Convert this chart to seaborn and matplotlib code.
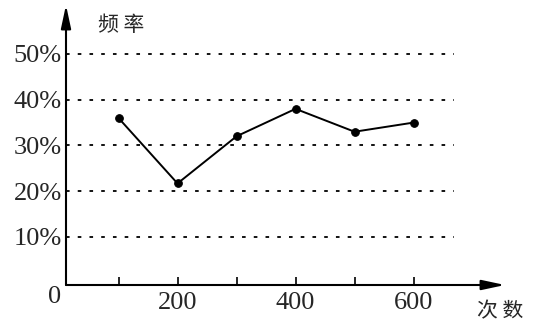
import matplotlib
matplotlib.use("Agg")
import matplotlib.pyplot as plt
import seaborn as sns
import pandas as pd

counts = [100, 200, 300, 400, 500, 600]
freq_pct = [36, 21.7, 32, 38, 33, 35]
ytick_vals = [10, 20, 30, 40, 50]
ytick_labels = ["10%", "20%", "30%", "40%", "50%"]
xtick_major = [200, 400, 600]
xtick_minor = [100, 300, 500]
ylabel_text = "频 率"
xlabel_text = "次 数"

sns.set_style("white")
plt.rcParams['font.family'] = ['Liberation Serif', 'Noto Sans CJK SC', 'DejaVu Sans']

W, H = 535, 325
fig = plt.figure(figsize=(W / 100, H / 100), dpi=100)
# axes in pixel coords: left 66, right 505, bottom 285, top 5
ax = fig.add_axes([66 / W, (H - 285) / H, (505 - 66) / W, (285 - 5) / H])

df = pd.DataFrame({"count": counts, "freq": freq_pct})

# dotted grid lines
for yv in ytick_vals:
    ax.plot([11, 668], [yv, yv], color="black", lw=1.3, linestyle=(0, (2, 4.5)), zorder=1)

sns.lineplot(data=df, x="count", y="freq", ax=ax, color="black", lw=1.4,
             marker="o", markersize=5.5, markeredgecolor="black", zorder=3)

ax.set_xlim(11, 755)
ax.set_ylim(-0.5, 60.7)
for s in ax.spines.values():
    s.set_visible(False)

# axis arrows
ax.annotate("", xy=(1.0, 0), xytext=(0, 0), xycoords="axes fraction",
            arrowprops=dict(arrowstyle="-|>,head_length=1.4,head_width=0.3",
                            color="black", lw=1.5, shrinkA=0, shrinkB=0))
ax.annotate("", xy=(0, 1.0), xytext=(0, 0), xycoords="axes fraction",
            arrowprops=dict(arrowstyle="-|>,head_length=1.4,head_width=0.3",
                            color="black", lw=1.5, shrinkA=0, shrinkB=0))

ax.set_xticks(xtick_major)
ax.set_xticklabels([str(v) for v in xtick_major], fontsize=19, family="Liberation Serif")
ax.set_xticks(xtick_minor, minor=True)
ax.tick_params(axis="x", which="both", direction="in", length=6, width=1.2,
               color="black", pad=5, bottom=True)
ax.set_yticks(ytick_vals)
ax.set_yticklabels(ytick_labels, fontsize=19, family="Liberation Serif")
ax.tick_params(axis="y", length=0, pad=3)
ax.set_xlabel("")
ax.set_ylabel("")

fig.text(55 / W, 1 - 297 / H, "0", fontsize=19, family="Liberation Serif",
         ha="center", va="center")
fig.text(121 / W, 1 - 25 / H, ylabel_text, fontsize=15, family=["Noto Sans CJK SC", "DejaVu Sans"],
         ha="center", va="center")
fig.text(500 / W, 1 - 311 / H, xlabel_text, fontsize=15, family=["Noto Sans CJK SC", "DejaVu Sans"],
         ha="center", va="center")

fig.savefig("out.png", dpi=100)
